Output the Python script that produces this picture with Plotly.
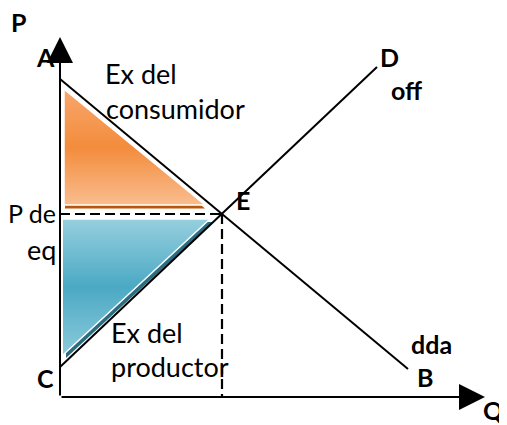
import plotly.graph_objects as go

# ---- data (Q and P in arbitrary units) ----
demand_q = [0, 34.8]
demand_p = [31.8, 2.8]
supply_q = [0, 31.7]
supply_p = [3.0, 33.0]
eq_q = 16.2
eq_p = 18.3
consumer_q = [0.4, 0.4, 14.4]
consumer_p = [30.7, 19.2, 19.2]
producer_q = [0.3, 15.0, 0.3]
producer_p = [17.8, 17.8, 4.2]
q_axis_end = 42.5
p_axis_end = 36.0

FONT = "Lato"
SIZE = 27
BSIZE = 25

fig = go.Figure()

def shifted(vals, d):
    return [v + d for v in vals]

# consumer surplus shadow + triangle
fig.add_trace(go.Scatter(x=shifted(consumer_q, 0.1), y=shifted(consumer_p, -0.35), fill="toself",
                         mode="lines", line=dict(width=0), fillcolor="#B9560D"))
fig.add_trace(go.Scatter(x=consumer_q, y=consumer_p, fill="toself", mode="lines",
                         line=dict(color="white", width=1.5),
                         fillgradient=dict(type="vertical",
                                           colorscale=[[0, "#F9BD8F"], [0.5, "#F38C3C"], [1, "#F8A66C"]])))
# producer surplus shadow + triangle
fig.add_trace(go.Scatter(x=shifted(producer_q, 0.3), y=shifted(producer_p, -0.3), fill="toself",
                         mode="lines", line=dict(width=0), fillcolor="#2C6C80"))
fig.add_trace(go.Scatter(x=producer_q, y=producer_p, fill="toself", mode="lines",
                         line=dict(color="white", width=1.5),
                         fillgradient=dict(type="vertical",
                                           colorscale=[[0, "#8CCADB"], [0.5, "#4BA9C4"], [1, "#96CFDE"]])))

# demand and supply
fig.add_trace(go.Scatter(x=demand_q, y=demand_p, mode="lines", line=dict(color="black", width=2)))
fig.add_trace(go.Scatter(x=supply_q, y=supply_p, mode="lines", line=dict(color="black", width=2)))

# equilibrium dashed guides
fig.add_trace(go.Scatter(x=[0, eq_q], y=[eq_p, eq_p], mode="lines",
                         line=dict(color="black", width=2.2, dash="10px,5px")))
fig.add_trace(go.Scatter(x=[eq_q, eq_q], y=[eq_p, 0], mode="lines",
                         line=dict(color="black", width=2.2, dash="10px,5px")))

ann = []
# axes arrows
ann.append(dict(x=0, y=p_axis_end, ax=0, ay=0, xref="x", yref="y", axref="x", ayref="y",
                showarrow=True, arrowhead=2, arrowsize=2.6, arrowwidth=2, arrowcolor="black",
                standoff=0, text=""))
ann.append(dict(x=q_axis_end, y=0, ax=0, ay=0, xref="x", yref="y", axref="x", ayref="y",
                showarrow=True, arrowhead=2, arrowsize=2.6, arrowwidth=2, arrowcolor="black",
                standoff=0, text=""))

def px(xp, yp):
    return (xp - 60) / 10.0, (397 - yp) / 10.0

def label(text, xp, yp, anchor="center", bold=False, size=None):
    x, y = px(xp, yp)
    ann.append(dict(x=x, y=y, xref="x", yref="y", showarrow=False,
                    text=f"<b>{text}</b>" if bold else text,
                    xanchor=anchor, yanchor="middle",
                    font=dict(family=FONT, size=size or (BSIZE if bold else SIZE), color="black")))

label("P", 18, 22, bold=True)
label("A", 45, 57, bold=True)
label("Ex del", 103, 73, anchor="left")
label("consumidor", 104, 108, anchor="left")
label("D", 389, 57, bold=True)
label("off", 406, 90, bold=True)
label("E", 243, 200, bold=True)
label("P de", 58, 213, anchor="right", size=25)
label("eq", 58, 249, anchor="right")
label("Ex del", 109, 332, anchor="left")
label("productor", 109, 366, anchor="left")
label("C", 45, 378, bold=True)
label("dda", 431, 344, bold=True)
label("B", 425, 377, bold=True)
label("Q", 493, 410, bold=True)

# page body has an 8px margin, so the figure is drawn 8px smaller and offset
fig.update_layout(
    width=499, height=417,
    margin=dict(l=0, r=0, t=0, b=0),
    paper_bgcolor="white", plot_bgcolor="white",
    showlegend=False, hovermode=False,
    xaxis=dict(range=[-5.2, 44.7], visible=False, fixedrange=True),
    yaxis=dict(range=[-2.8, 38.9], visible=False, fixedrange=True),
    annotations=ann,
)

fig.write_html("out.html")
